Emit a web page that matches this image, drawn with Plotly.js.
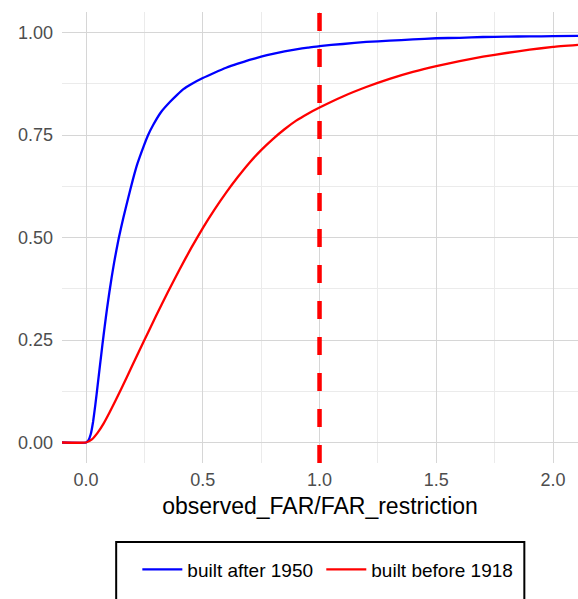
<!DOCTYPE html>
<html>
<head>
<meta charset="utf-8">
<script src="https://cdn.plot.ly/plotly-3.0.1.min.js"></script>
<style>html,body{margin:0;padding:0;background:#fff;}#chart{width:578px;height:599px;}</style>
</head>
<body>
<div id="chart"></div>
<script>
// ECDF of observed_FAR/FAR_restriction
const afterX = [-0.103, 0, 0.01, 0.02, 0.03, 0.04, 0.05, 0.06, 0.07, 0.08, 0.09, 0.1, 0.11, 0.12, 0.13, 0.14, 0.16, 0.18, 0.2, 0.22, 0.245, 0.265, 0.288, 0.32, 0.36, 0.39, 0.417, 0.45, 0.5, 0.55, 0.6, 0.65, 0.7, 0.75, 0.8, 0.85, 0.9, 0.95, 1.0, 1.1, 1.2, 1.3, 1.4, 1.5, 1.6, 1.7, 1.8, 1.9, 2.0, 2.107];
const afterY = [0, 0, 0.005, 0.020, 0.050, 0.093, 0.141, 0.190, 0.238, 0.284, 0.327, 0.367, 0.404, 0.438, 0.469, 0.498, 0.549, 0.595, 0.640, 0.680, 0.720, 0.749, 0.775, 0.805, 0.831, 0.848, 0.862, 0.874, 0.889, 0.902, 0.914, 0.924, 0.933, 0.941, 0.948, 0.954, 0.959, 0.963, 0.967, 0.972, 0.977, 0.980, 0.983, 0.986, 0.987, 0.989, 0.990, 0.9905, 0.991, 0.992];
const beforeX = [-0.103, 0, 0.025, 0.05, 0.075, 0.1, 0.15, 0.2, 0.25, 0.3, 0.35, 0.4, 0.45, 0.5, 0.55, 0.6, 0.65, 0.7, 0.75, 0.8, 0.85, 0.9, 0.95, 1.0, 1.1, 1.2, 1.3, 1.4, 1.5, 1.6, 1.7, 1.8, 1.9, 2.0, 2.107];
const beforeY = [0, 0, 0.0075, 0.024, 0.046, 0.0725, 0.13, 0.19, 0.25, 0.309, 0.3665, 0.4215, 0.474, 0.523, 0.568, 0.6095, 0.6475, 0.6825, 0.713, 0.740, 0.764, 0.785, 0.802, 0.817, 0.844, 0.867, 0.887, 0.904, 0.918, 0.930, 0.941, 0.950, 0.958, 0.965, 0.970];
const seriesNames = ["built after 1950", "built before 1918"];
const refLineX = 1.0;
const xTicks = [0, 0.5, 1.0, 1.5, 2.0];
const xTickLabels = ["0.0", "0.5", "1.0", "1.5", "2.0"];
const yTicks = [0, 0.25, 0.5, 0.75, 1.0];
const yTickLabels = ["0.00", "0.25", "0.50", "0.75", "1.00"];

const data = [
  {x: afterX, y: afterY, type: 'scatter', mode: 'lines', name: seriesNames[0], legend: 'legend',
   line: {color: '#0000ff', width: 2.3, shape: 'spline', smoothing: 0.4}},
  {x: beforeX, y: beforeY, type: 'scatter', mode: 'lines', name: seriesNames[1], legend: 'legend2',
   line: {color: '#ff0000', width: 2.3, shape: 'spline', smoothing: 0.4}}
];

const legendCommon = {
  orientation: 'h', xanchor: 'left', y: -0.236, yanchor: 'middle',
  font: {size: 19, color: '#000000'}, bgcolor: 'rgba(0,0,0,0)', borderwidth: 0,
  itemwidth: 40
};

const layout = {
  width: 578, height: 599,
  margin: {l: 62, r: 0, t: 12, b: 136},
  paper_bgcolor: '#ffffff', plot_bgcolor: '#ffffff',
  font: {family: 'Liberation Sans, Arial, sans-serif', color: '#4d4d4d'},
  showlegend: true,
  xaxis: {
    range: [-0.103, 2.107], tickvals: xTicks, ticktext: xTickLabels,
    showgrid: true, gridcolor: '#d6d6d6', gridwidth: 1,
    minor: {dtick: 0.25, showgrid: true, gridcolor: '#ebebeb', gridwidth: 1, tick0: 0},
    zeroline: false, showline: false, ticks: '',
    tickfont: {size: 18, color: '#4d4d4d'}, ticklabelstandoff: 4,
    title: {text: 'observed_FAR/FAR_restriction', font: {size: 23, color: '#000000'}, standoff: 8}
  },
  yaxis: {
    range: [-0.05, 1.05], tickvals: yTicks, ticktext: yTickLabels,
    showgrid: true, gridcolor: '#d6d6d6', gridwidth: 1,
    minor: {dtick: 0.125, showgrid: true, gridcolor: '#ebebeb', gridwidth: 1, tick0: 0},
    zeroline: false, showline: false, ticks: '',
    tickfont: {size: 18, color: '#4d4d4d'}, ticklabelstandoff: 8
  },
  shapes: [
    {type: 'line', xref: 'x', yref: 'paper', x0: refLineX, x1: refLineX, y0: 0, y1: 1,
     line: {color: '#ff0000', width: 4.5, dash: '18px,18px'}},
    {type: 'rect', xref: 'paper', yref: 'paper', x0: 0.105, x1: 0.896, y0: -0.31, y1: -0.175,
     line: {color: '#000000', width: 2}, fillcolor: 'rgba(0,0,0,0)'}
  ],
  legend: Object.assign({}, legendCommon, {x: 0.146}),
  legend2: Object.assign({}, legendCommon, {x: 0.5025})
};

Plotly.newPlot('chart', data, layout, {displayModeBar: false, staticPlot: true});
</script>
</body>
</html>
